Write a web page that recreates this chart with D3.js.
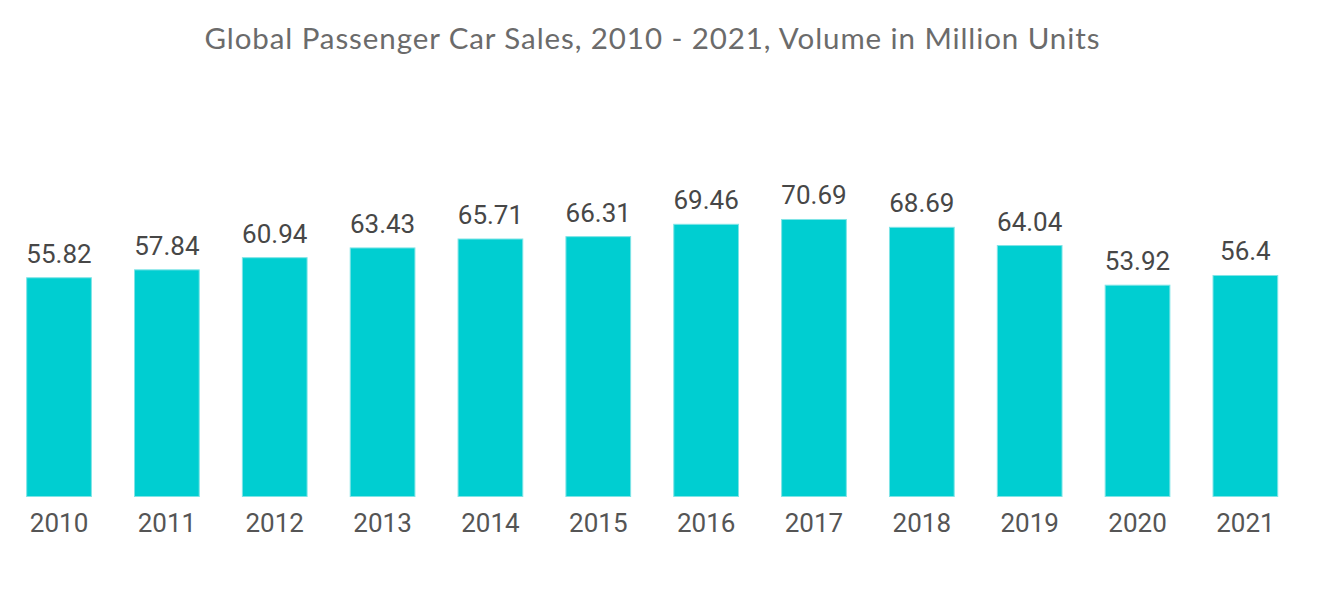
<!DOCTYPE html>
<html><head><meta charset="utf-8">
<script src="https://cdn.jsdelivr.net/npm/d3@7"></script>
<style>body{margin:0;background:#fff;}svg{display:block;}</style>
</head><body>
<svg id="c" width="1320" height="592"></svg>
<script>
const title = "Global Passenger Car Sales, 2010 - 2021, Volume in Million Units";
const years = ["2010","2011","2012","2013","2014","2015","2016","2017","2018","2019","2020","2021"];
const values = [55.82,57.84,60.94,63.43,65.71,66.31,69.46,70.69,68.69,64.04,53.92,56.4];
const valueLabels = ["55.82","57.84","60.94","63.43","65.71","66.31","69.46","70.69","68.69","64.04","53.92","56.4"];

const svg = d3.select("#c");
const x = d3.scaleBand().domain(years).range([5.1, 1299.3]).paddingInner(0.4).paddingOuter(0.2);
const y = d3.scaleLinear().domain([0, 80]).range([496.5, 183]);

svg.append("text").attr("x", 652).attr("y", 48.5).attr("text-anchor","middle")
  .attr("font-family","Lato, 'Open Sans', sans-serif").attr("font-size", 29.5).attr("fill","#6b6b6b")
  .attr("textLength", 895).attr("lengthAdjust","spacing")
  .text(title);

const data = years.map((yr,i)=>({yr, v: values[i], lab: valueLabels[i]}));

svg.selectAll("rect.bar").data(data).join("rect").attr("class","bar")
  .attr("x", d=>x(d.yr)).attr("width", x.bandwidth())
  .attr("y", d=>y(d.v)).attr("height", d=>y(0)-y(d.v))
  .attr("fill","#00ced1").attr("stroke","#7fe4e6").attr("stroke-width",1);

svg.selectAll("text.val").data(data).join("text").attr("class","val")
  .attr("x", d=>x(d.yr)+x.bandwidth()/2).attr("y", d=>y(d.v)-15)
  .attr("text-anchor","middle").attr("font-family","Roboto, sans-serif").attr("font-size",26)
  .attr("fill","#474747").text(d=>d.lab);

const ax = svg.append("g").attr("transform","translate(0,496.5)")
  .call(d3.axisBottom(x).tickSize(0).tickPadding(0));
ax.select(".domain").remove();
ax.selectAll("text").attr("dy", null).attr("y", 35).attr("font-family","Roboto, sans-serif")
  .attr("font-size",26).attr("fill","#555");
</script>
</body></html>
